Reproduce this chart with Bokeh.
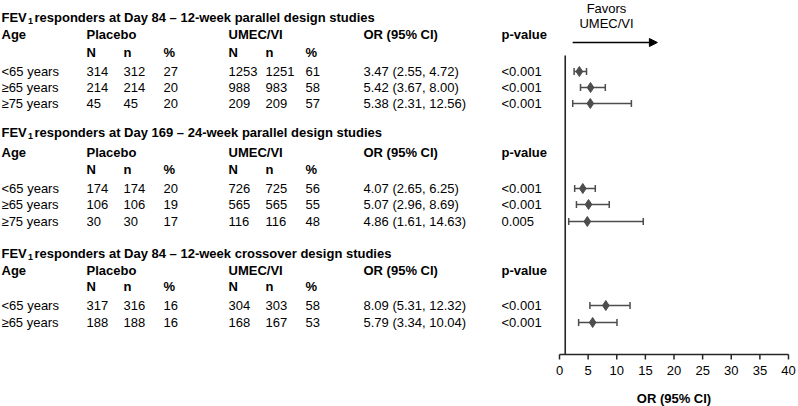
from bokeh.plotting import figure
from bokeh.models import Range1d, ColumnDataSource, Whisker, TeeHead, Arrow, NormalHead
from bokeh.core.properties import value
from bokeh.embed import file_html
from bokeh.resources import INLINE

# ---------------- data ----------------
study_titles = [
    "responders at Day 84 \u2013 12-week parallel design studies",
    "responders at Day 169 \u2013 24-week parallel design studies",
    "responders at Day 84 \u2013 12-week crossover design studies",
]
age_group = ["<65 years", "\u226565 years", "\u226575 years",
             "<65 years", "\u226565 years", "\u226575 years",
             "<65 years", "\u226565 years"]
placebo_N = [314, 214, 45, 174, 106, 30, 317, 188]
placebo_n = [312, 214, 45, 174, 106, 30, 316, 188]
placebo_pct = [27, 20, 20, 20, 19, 17, 16, 16]
umec_N = [1253, 988, 209, 726, 565, 116, 304, 168]
umec_n = [1251, 983, 209, 725, 565, 116, 303, 167]
umec_pct = [61, 58, 57, 56, 55, 48, 58, 53]
or_est = [3.47, 5.42, 5.38, 4.07, 5.07, 4.86, 8.09, 5.79]
or_lo = [2.55, 3.67, 2.31, 2.65, 2.96, 1.61, 5.31, 3.34]
or_hi = [4.72, 8.00, 12.56, 6.25, 8.69, 14.63, 12.32, 10.04]
p_value = ["<0.001", "<0.001", "<0.001", "<0.001", "<0.001", "0.005", "<0.001", "<0.001"]
or_ticks = [0, 5, 10, 15, 20, 25, 30, 35, 40]
axis_title = "OR (95% CI)"

# ---------------- layout (pixel units) ----------------
W, H = 798, 406
OR0_PX, OR40_PX = 559, 788   # where OR 0 and OR 40 sit horizontally
AXIS_Y, TICK_Y, TICKLAB_Y, AXLAB_Y = 354, 359, 370, 398
NULL_TOP = 55
row_y = [71, 87, 103, 188, 204, 221, 305, 322]
title_y = [17, 132, 253]
header_y = [34, 152, 270]
sub_y = [52, 169, 286]
col_age, col_pN, col_pn, col_pp = 1, 86, 123, 163
col_uN, col_un, col_up = 228, 265, 305
col_or, col_pv = 363, 501

FONT = "Liberation Sans"
FS = "13px"
INK = "#000000"
MARK = "#4d4d4d"
AXC = "#262626"

px_per_or = (OR40_PX - OR0_PX) / 40.0
or_range = Range1d(start=-OR0_PX / px_per_or, end=(W - OR0_PX) / px_per_or)

p = figure(width=W, height=H, x_range=or_range, y_range=Range1d(start=H, end=0),
           output_backend="svg", toolbar_location=None, min_border=0,
           x_axis_location=None, y_axis_location=None, outline_line_color=None)
p.extra_x_ranges = {"px": Range1d(0, W)}
p.grid.visible = False


def txt(xs, ys, texts, bold=False, size=FS, align="left", rng="px"):
    p.text(x=xs, y=ys, text=texts, text_font=value(FONT), text_font_size=size,
           text_font_style="bold" if bold else "normal", text_baseline="middle",
           text_align=align, text_color=INK, x_range_name=rng)


# titles
txt([col_age] * 3, title_y, ["FEV"] * 3, bold=True)
txt([27.5] * 3, [t + 3 for t in title_y], ["1"] * 3, bold=True, size="9px")
txt([34] * 3, title_y, study_titles, bold=True)

# headers
hx, hy, ht = [], [], []
for y in header_y:
    for x, t in [(col_age, "Age"), (col_pN, "Placebo"), (col_uN, "UMEC/VI"),
                 (col_or, "OR (95% CI)"), (col_pv, "p-value")]:
        hx.append(x); hy.append(y); ht.append(t)
for y in sub_y:
    for x, t in [(col_pN, "N"), (col_pn, "n"), (col_pp, "%"),
                 (col_uN, "N"), (col_un, "n"), (col_up, "%")]:
        hx.append(x); hy.append(y); ht.append(t)
txt(hx, hy, ht, bold=True)

# body
or_text = [f"{e:.2f} ({l:.2f}, {h:.2f})" for e, l, h in zip(or_est, or_lo, or_hi)]
columns = [(col_age, age_group), (col_pN, placebo_N), (col_pn, placebo_n),
           (col_pp, placebo_pct), (col_uN, umec_N), (col_un, umec_n),
           (col_up, umec_pct), (col_or, or_text), (col_pv, p_value)]
bx, by, bt = [], [], []
for x, vals in columns:
    for y, v in zip(row_y, vals):
        bx.append(x); by.append(y); bt.append(str(v))
txt(bx, by, bt)

# ---------------- forest plot (OR scale) ----------------
# OR axis
p.segment(x0=[or_ticks[0]], y0=[AXIS_Y], x1=[or_ticks[-1]], y1=[AXIS_Y],
          line_color=AXC, line_width=1.5)
p.segment(x0=or_ticks, y0=[AXIS_Y] * len(or_ticks), x1=or_ticks, y1=[TICK_Y] * len(or_ticks),
          line_color=AXC, line_width=1.5)
txt(or_ticks, [TICKLAB_Y] * len(or_ticks), [str(t) for t in or_ticks], align="center", rng="default")
txt([(or_ticks[0] + or_ticks[-1]) / 2], [AXLAB_Y], [axis_title], bold=True, align="center", rng="default")

# null line at OR = 1
p.segment(x0=[1], y0=[NULL_TOP], x1=[1], y1=[AXIS_Y], line_color=AXC, line_width=1.6)

src = ColumnDataSource(dict(y=row_y, est=or_est, lo=or_lo, hi=or_hi))
p.add_layout(Whisker(source=src, base="y", lower="lo", upper="hi", dimension="width",
                     line_color=MARK, line_width=1.5,
                     lower_head=TeeHead(size=7, line_color=MARK, line_width=1.5),
                     upper_head=TeeHead(size=7, line_color=MARK, line_width=1.5)))
p.scatter(x="est", y="y", source=src, marker="diamond", size=10,
          fill_color=MARK, line_color=MARK)

# favours annotation
txt([606, 606], [8, 23], ["Favors", "UMEC/VI"], align="center")
p.add_layout(Arrow(end=NormalHead(size=8, fill_color="#000000", line_color="#000000"),
                   x_start=2.3, y_start=42, x_end=17.1, y_end=42,
                   line_color="#000000", line_width=1.5))

open("out.html", "w").write(file_html(p, INLINE))
